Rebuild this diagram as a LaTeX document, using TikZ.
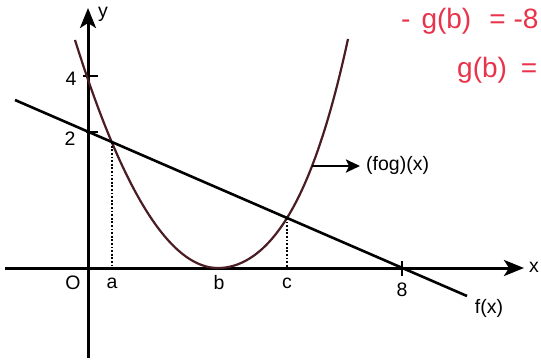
\documentclass[tikz,border=0pt]{standalone}
\usepackage{fontspec}
\setmainfont{Liberation Sans}
\usetikzlibrary{arrows.meta}
\definecolor{curvecol}{HTML}{4A1C24}
\definecolor{handred}{HTML}{E8334A}
\begin{document}
\begin{tikzpicture}[x=1pt,y=-1pt,
  axis/.style={line width=3pt,-{Stealth[length=20pt,width=16pt,inset=5pt]}},
  fline/.style={line width=2.6pt},
  curve/.style={line width=2.2pt,draw=curvecol},
  guide/.style={line width=2.4pt,dash pattern=on 1.8pt off 1.8pt},
  tickmark/.style={line width=2.4pt},
  pointer/.style={line width=2.6pt,-{Stealth[length=14pt,width=13pt,inset=3pt]}},
  lbl/.style={font=\fontsize{19.5}{19.5}\selectfont,inner sep=0pt},
  hand/.style={text=handred,font=\fontsize{28}{28}\selectfont,inner sep=0pt,anchor=west}]
\clip (0,0) rectangle (541,362);
\fill[white] (0,0) rectangle (541,362);
% coordinates
\coordinate (xs) at (5,268);
\coordinate (xe) at (524,268);
\coordinate (ys) at (88,358);
\coordinate (ye) at (88,8);
\coordinate (fs) at (15,100);
\coordinate (fe) at (467,296);
\coordinate (A) at (112,142.1);
\coordinate (Ab) at (112,268);
\coordinate (C) at (287,217.9);
\coordinate (Cb) at (287,268);
\coordinate (t4a) at (83,76);
\coordinate (t4b) at (98,76);
\coordinate (t2a) at (86,132);
\coordinate (t2b) at (98,132);
\coordinate (t8a) at (402,261);
\coordinate (t8b) at (402,276);
\coordinate (P) at (312,166);
\coordinate (Pe) at (360,166);
% axes
\draw[axis] (xs) -- (xe);
\draw[axis] (ys) -- (ye);
% ticks
\draw[tickmark] (t4a) -- (t4b);
\draw[tickmark] (t2a) -- (t2b);
\draw[tickmark] (t8a) -- (t8b);
% parabola (fog)(x)
\draw[curve] plot[domain=-1.43:0,samples=60] ({218+100*\x},{268-111.5*\x*\x})
  -- plot[domain=0:1.3,samples=60] ({218+100*\x},{268-93.1*\x*\x-25.1*\x*\x*\x*\x});
% line f(x)
\draw[fline] (fs) -- (fe);
% dotted guides
\draw[guide] (A) -- (Ab);
\draw[guide] (C) -- (Cb);
% pointer
\draw[pointer] (P) -- (Pe);
% labels
\node[lbl] (ylab) at (103,14) {y};
\node[lbl] (xlab) at (534,267) {x};
\node[lbl] (l4) at (71,79) {4};
\node[lbl] (l2) at (70,139) {2};
\node[lbl] (lO) at (73,283) {O};
\node[lbl] (la) at (112,283) {a};
\node[lbl] (lb) at (219,283) {b};
\node[lbl] (lc) at (287,283) {c};
\node[lbl] (l8) at (402,290) {8};
\node[lbl] (lf) at (489,308) {f(x)};
\node[lbl,anchor=west] (lfog) at (366,165) {(fog)(x)};
% handwritten notes
\node[hand] (h1) at (401,21) {-\hspace{11pt}g(b)\hspace{18pt}=\hspace{8pt}-8};
\node[hand] (h2) at (457,70) {g(b)\hspace{14pt}=};
\end{tikzpicture}
\end{document}
